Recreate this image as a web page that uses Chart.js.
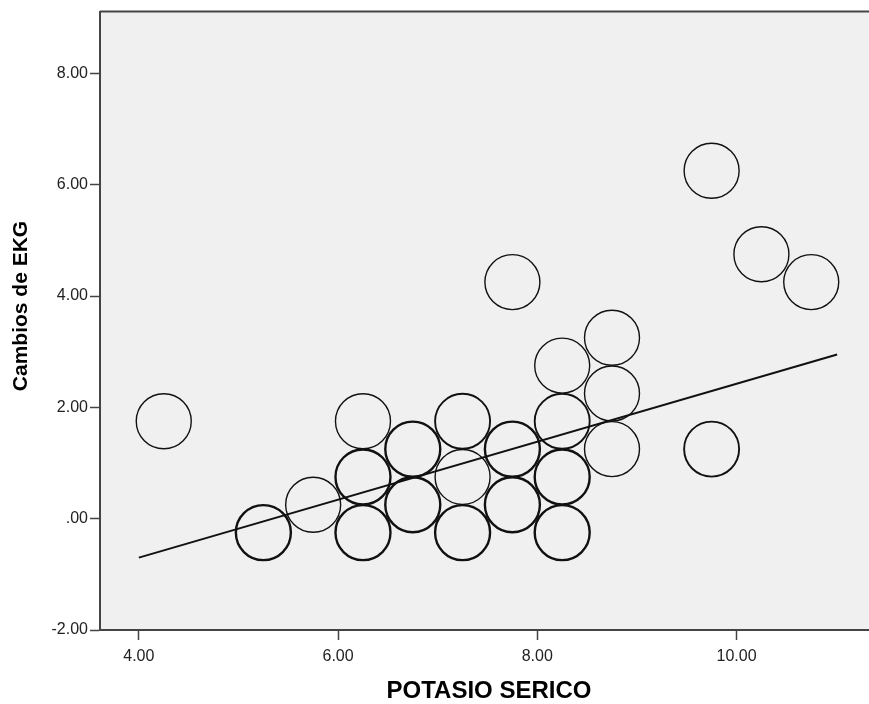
<!DOCTYPE html>
<html lang="es">
<head>
  <meta charset="UTF-8">
  <title>Cambios de EKG vs Potasio serico</title>
  <script src="https://cdn.jsdelivr.net/npm/chart.js"></script>
  <style>
    body {
      margin: 0;
      background-color: #ffffff;
    }
    .chart-box {
      width: 869px;
      height: 704px;
    }
  </style>
</head>
<body>
  <div class="chart-box">
    <canvas id="scatterChart"></canvas>
  </div>

  <script>
    // observed points (binned positions), count = how many cases overlap there
    const potasio = [4.25, 5.25, 5.75, 6.25, 6.25, 6.25, 6.75, 6.75, 7.25, 7.25, 7.25, 7.75, 7.75, 7.75,
                     8.25, 8.25, 8.25, 8.25, 8.75, 8.75, 8.75, 9.75, 9.75, 10.25, 10.75];
    const ekg     = [1.75, -0.25, 0.25, 1.75, 0.75, -0.25, 1.25, 0.25, 1.75, 0.75, -0.25, 4.25, 1.25, 0.25,
                     2.75, 1.75, 0.75, -0.25, 3.25, 2.25, 1.25, 6.25, 1.25, 4.75, 4.25];
    const counts  = [1, 3, 1, 1, 3, 3, 3, 3, 2, 1, 3, 1, 3, 3,
                     1, 2, 3, 3, 1, 1, 1, 1, 2, 1, 1];

    // linear fit line
    const fitX = [4.0, 11.01];
    const fitY = [-0.70, 2.95];

    // tick labels
    const xTicks = [4, 6, 8, 10];
    const yTicks = [-2, 0, 2, 4, 6, 8];

    function fmt(v) {
      let s = Number(v).toFixed(2);
      if (s.startsWith('0.')) s = s.slice(1);
      return s;
    }

    const plotBg = {
      id: 'plotBg',
      beforeDraw(chart) {
        const { ctx, chartArea: a } = chart;
        ctx.save();
        ctx.fillStyle = '#f0f0f0';
        ctx.fillRect(a.left, a.top, a.right - a.left, a.bottom - a.top);
        ctx.restore();
      },
      afterDraw(chart) {
        const { ctx, chartArea: a } = chart;
        ctx.save();
        // top frame line
        ctx.strokeStyle = '#444';
        ctx.lineWidth = 2;
        ctx.beginPath();
        ctx.moveTo(a.left, a.top);
        ctx.lineTo(a.right, a.top);
        ctx.stroke();
        // axis titles
        ctx.fillStyle = '#000';
        ctx.font = 'bold 24px "Liberation Sans", Arial, sans-serif';
        ctx.textAlign = 'center';
        ctx.textBaseline = 'middle';
        ctx.fillText('POTASIO SERICO', 489, 691);
        ctx.translate(21, 306);
        ctx.rotate(-Math.PI / 2);
        ctx.font = 'bold 21px "Liberation Sans", Arial, sans-serif';
        ctx.fillText('Cambios de EKG', 0, 0);
        ctx.restore();
      }
    };

    const tickFont = { family: '"Liberation Sans", Arial, sans-serif', size: 16 };

    new Chart(document.getElementById('scatterChart'), {
      type: 'scatter',
      data: {
        datasets: [
          {
            label: 'Cambios de EKG',
            data: potasio.map((x, i) => ({ x: x, y: ekg[i] })),
            pointRadius: 27.5,
            pointHoverRadius: 27.5,
            pointBackgroundColor: 'rgba(0,0,0,0)',
            pointBorderColor: '#111',
            pointBorderWidth: ctx => 0.9 + 0.5 * (counts[ctx.dataIndex] || 1)
          },
          {
            type: 'line',
            label: 'Ajuste lineal',
            data: fitX.map((x, i) => ({ x: x, y: fitY[i] })),
            borderColor: '#111',
            borderWidth: 2,
            pointRadius: 0,
            fill: false
          }
        ]
      },
      options: {
        responsive: true,
        maintainAspectRatio: false,
        animation: false,
        layout: { autoPadding: false, padding: { top: 10, right: 0, left: 0, bottom: 0 } },
        plugins: {
          legend: { display: false },
          tooltip: { enabled: false }
        },
        scales: {
          x: {
            type: 'linear',
            min: 3.61,
            max: 11.33,
            afterBuildTicks: s => { s.ticks = xTicks.map(v => ({ value: v })); },
            afterFit: s => { s.height = 74; },
            grid: { drawOnChartArea: false, drawTicks: true, tickLength: 10, color: '#444', tickWidth: 1.5 },
            border: { display: true, color: '#444', width: 2 },
            ticks: { color: '#222', font: tickFont, padding: 7, maxRotation: 0, callback: v => fmt(v) }
          },
          y: {
            type: 'linear',
            min: -2,
            max: 9.11,
            afterBuildTicks: s => { s.ticks = yTicks.map(v => ({ value: v })); },
            afterFit: s => { s.width = 100; },
            grid: { drawOnChartArea: false, drawTicks: true, tickLength: 10, color: '#444', tickWidth: 1.5 },
            border: { display: true, color: '#444', width: 2 },
            ticks: { color: '#222', font: tickFont, padding: 2, callback: v => fmt(v) }
          }
        }
      },
      plugins: [plotBg]
    });
  </script>
</body>
</html>
